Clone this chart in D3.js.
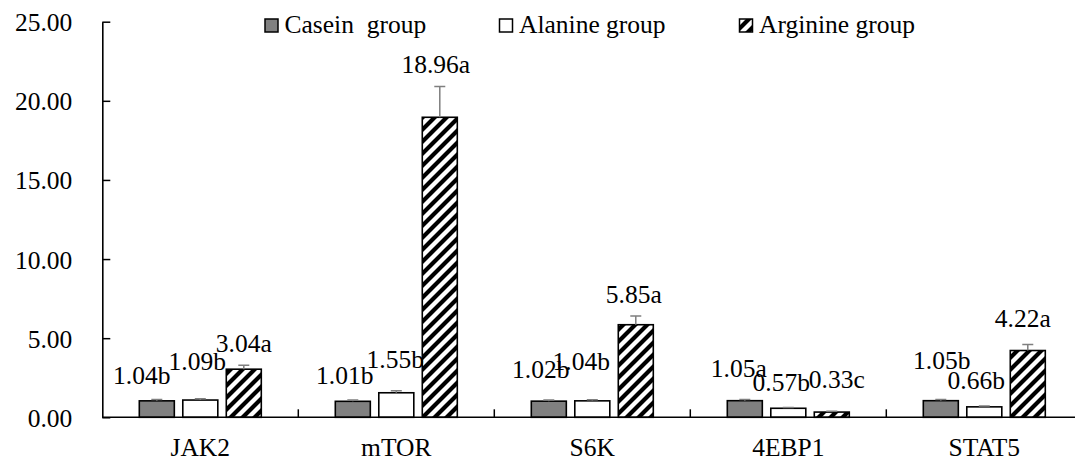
<!DOCTYPE html>
<html>
<head>
<meta charset="utf-8">
<script src="https://cdn.jsdelivr.net/npm/d3@7"></script>
<style>
  html, body { margin: 0; padding: 0; background: #fff; }
  svg { display: block; }
</style>
</head>
<body>
<svg id="chart" width="1075" height="462"></svg>
<script>
// data
const genes = ['JAK2', 'mTOR', 'S6K', '4EBP1', 'STAT5'];
const groups = ['Casein  group', 'Alanine group', 'Arginine group'];
const casein = [1.04, 1.01, 1.02, 1.05, 1.05];
const alanine = [1.09, 1.55, 1.04, 0.57, 0.66];
const arginine = [3.04, 18.96, 5.85, 0.33, 4.22];
const caseinErr = [0.08, 0.08, 0.08, 0.08, 0.08];
const alanineErr = [0.08, 0.12, 0.07, 0.05, 0.06];
const arginineErr = [0.25, 1.94, 0.55, 0.05, 0.38];
const caseinSig = ['b', 'b', 'b', 'a', 'b'];
const alanineSig = ['b', 'b', 'b', 'b', 'b'];
const arginineSig = ['a', 'a', 'a', 'c', 'a'];
const yTicks = [0, 5, 10, 15, 20, 25];

// label nudges (px) [dx, dy] per group, per gene - hand placed labels in the original
const labelNudge = [
  [[-15, -3], [-8, -3], [-8, -9], [-6, -9], [1, -17]],
  [[-3, -16], [-1, -10], [-11, -17], [-7, -3], [-8, -4]],
  [[0, 0], [-4, -1], [-2, 0], [5, -10], [-5, -5]]
];

const values = [casein, alanine, arginine];
const errs = [caseinErr, alanineErr, arginineErr];
const sigs = [caseinSig, alanineSig, arginineSig];

const W = 1075, H = 462;
const plotLeft = 102.3, plotTop = 21.7, plotBottom = 417.3;
const step = 196;
const FS = 25.5;
const FONT = 'Liberation Serif';

const svg = d3.select('#chart');

// hatch for arginine bars
const defs = svg.append('defs');
const pat = defs.append('pattern')
  .attr('id', 'hatch')
  .attr('patternUnits', 'userSpaceOnUse')
  .attr('width', 12).attr('height', 12);
pat.append('rect').attr('width', 12).attr('height', 12).attr('fill', '#fff');
pat.append('path')
  .attr('d', 'M-3,3 L3,-3 M0,12 L12,0 M9,15 L15,9')
  .attr('stroke', '#000')
  .attr('stroke-width', 4.2);

const fills = ['#808080', '#ffffff', 'url(#hatch)'];

const x0 = d3.scaleBand()
  .domain(genes)
  .range([plotLeft, plotLeft + step * genes.length])
  .paddingInner(0.3776)
  .paddingOuter(0.1888);

const x1 = d3.scaleBand()
  .domain(d3.range(groups.length))
  .range([0, x0.bandwidth()])
  .paddingInner(0.195)
  .paddingOuter(0);

const y = d3.scaleLinear().domain([0, 25]).range([plotBottom, plotTop]);

function serif(sel) {
  sel.style('font-family', FONT)
    .style('font-size', FS + 'px')
    .attr('fill', '#000');
}

// y axis
const yAxis = svg.append('g')
  .attr('transform', `translate(${plotLeft},0)`)
  .call(d3.axisLeft(y).tickValues(yTicks).tickFormat(d3.format('.2f'))
    .tickSize(-8).tickSizeOuter(0).tickPadding(30));
yAxis.select('.domain').attr('stroke', '#000').attr('stroke-width', 1.6);
yAxis.selectAll('.tick line').attr('stroke', '#000').attr('stroke-width', 1.5);
yAxis.selectAll('.tick text')
  .attr('dy', null).attr('y', 9)
  .call(serif);

// bars
const g = svg.append('g');
groups.forEach((grp, k) => {
  const gg = g.append('g');
  gg.selectAll('rect')
    .data(genes)
    .join('rect')
    .attr('x', (d) => x0(d) + x1(k))
    .attr('y', (d, i) => y(values[k][i]))
    .attr('width', x1.bandwidth())
    .attr('height', (d, i) => y(0) - y(values[k][i]))
    .attr('fill', fills[k])
    .attr('stroke', '#000')
    .attr('stroke-width', 1.6);

  // upper error bars
  gg.selectAll('path.err')
    .data(genes)
    .join('path')
    .attr('class', 'err')
    .attr('d', (d, i) => {
      const cx = x0(d) + x1(k) + x1.bandwidth() / 2;
      const yt = y(values[k][i] + errs[k][i]);
      const yb = y(values[k][i]);
      return `M${cx},${yb}V${yt}M${cx - 5.5},${yt}H${cx + 5.5}`;
    })
    .attr('fill', 'none')
    .attr('stroke', '#7f7f7f')
    .attr('stroke-width', 1.5);
});

// x axis line + boundary ticks
const xAxis = svg.append('g');
xAxis.append('line')
  .attr('x1', plotLeft).attr('x2', W)
  .attr('y1', plotBottom).attr('y2', plotBottom)
  .attr('stroke', '#000').attr('stroke-width', 1.6);
xAxis.selectAll('line.tk')
  .data(d3.range(1, genes.length))
  .join('line')
  .attr('class', 'tk')
  .attr('x1', (i) => plotLeft + i * x0.step())
  .attr('x2', (i) => plotLeft + i * x0.step())
  .attr('y1', plotBottom).attr('y2', plotBottom - 8)
  .attr('stroke', '#000').attr('stroke-width', 1.5);
xAxis.selectAll('text')
  .data(genes)
  .join('text')
  .attr('x', (d) => x0(d) + x0.bandwidth() / 2)
  .attr('y', 456)
  .attr('text-anchor', 'middle')
  .text((d) => d)
  .call(serif);

// value labels
groups.forEach((grp, k) => {
  svg.append('g').selectAll('text')
    .data(genes)
    .join('text')
    .attr('x', (d, i) => x0(d) + x1(k) + x1.bandwidth() / 2 + labelNudge[k][i][0])
    .attr('y', (d, i) => y(values[k][i] + errs[k][i]) - 13 + labelNudge[k][i][1])
    .attr('text-anchor', 'middle')
    .text((d, i) => values[k][i].toFixed(2) + sigs[k][i])
    .call(serif);
});

// legend
const legX = [265, 499.5, 739.5];
const leg = svg.append('g');
groups.forEach((grp, k) => {
  leg.append('rect')
    .attr('x', legX[k]).attr('y', 19)
    .attr('width', 13).attr('height', 13)
    .attr('fill', fills[k])
    .attr('stroke', '#000').attr('stroke-width', 1.5);
  leg.append('text')
    .attr('x', legX[k] + 19.5).attr('y', 33)
    .style('white-space', 'pre')
    .text(grp)
    .call(serif);
});
</script>
</body>
</html>
